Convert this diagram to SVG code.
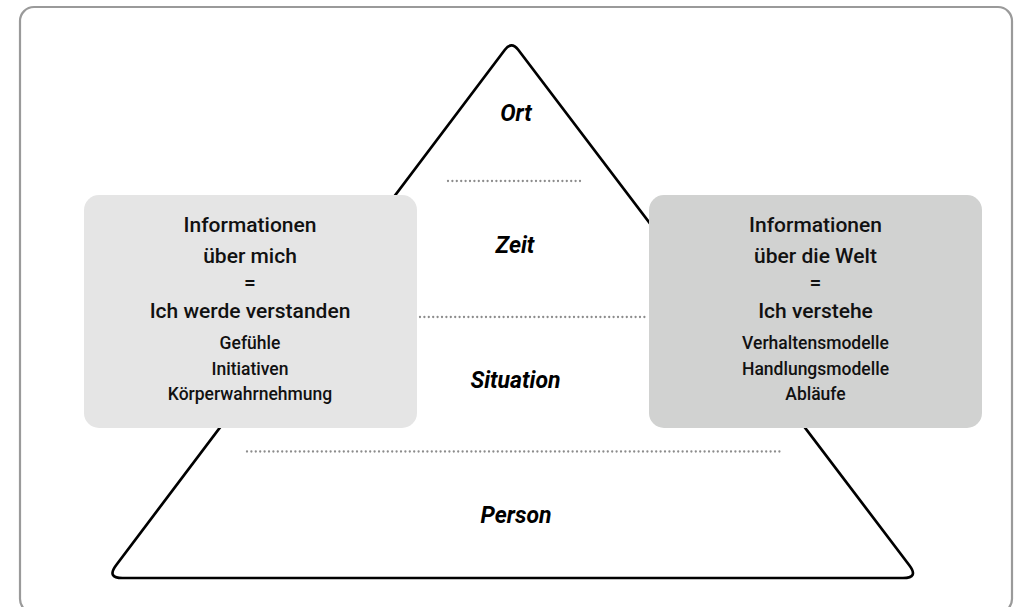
<svg xmlns="http://www.w3.org/2000/svg" width="1018" height="607" viewBox="0 0 1018 607">
<style>
.frame{fill:#fff;stroke:#9a9a9a;stroke-width:2.2}
.tri{fill:#fff;stroke:#000;stroke-width:2.7;stroke-linejoin:round}
.dot{stroke:#8c8c8c;stroke-width:2.3;stroke-linecap:round;stroke-dasharray:0 4.4;fill:none}
.t{font-family:Roboto,"Noto Sans",sans-serif;font-weight:500;fill:#111;text-anchor:middle}
.big{font-size:21px}
.small{font-size:17.5px}
.lbl{font-family:Roboto,"Noto Sans",sans-serif;font-weight:bold;font-style:italic;font-size:23px;fill:#000;text-anchor:middle}
</style>
<rect class="frame" x="20" y="7" width="992" height="606" rx="14"/>
<g id="pyramid">
<path class="tri" d="M504.9,49.8 Q511.5,41 518.2,49.8 L909.3,565.2 Q919,578 903,578 L122.5,578 Q106.5,578 116.1,565.2 Z"/>
<text class="lbl" x="516" y="121">Ort</text>
<text class="lbl" x="515" y="253">Zeit</text>
<text class="lbl" x="515.5" y="388">Situation</text>
<text class="lbl" x="516" y="523">Person</text>
</g>
<g id="connectors">
<line class="dot" x1="448" y1="181" x2="581" y2="181"/>
<line class="dot" x1="420" y1="317" x2="647" y2="317"/>
<line class="dot" x1="247" y1="451.5" x2="782" y2="451.5"/>
</g>
<g id="box-left">
<rect x="84" y="195" width="333" height="233" rx="15" fill="#e5e5e5"/>
<text class="t big" x="250" y="232">Informationen</text>
<text class="t big" x="250" y="263">über mich</text>
<text class="t big" x="250" y="290">=</text>
<text class="t big" x="250" y="318">Ich werde verstanden</text>
<text class="t small" x="250" y="349">Gefühle</text>
<text class="t small" x="250" y="375">Initiativen</text>
<text class="t small" x="250" y="400">Körperwahrnehmung</text>
</g>
<g id="box-right">
<rect x="649" y="195" width="333" height="233" rx="15" fill="#d1d2d1"/>
<text class="t big" x="815.5" y="232">Informationen</text>
<text class="t big" x="815.5" y="263">über die Welt</text>
<text class="t big" x="815.5" y="290">=</text>
<text class="t big" x="815.5" y="318">Ich verstehe</text>
<text class="t small" x="815.5" y="349">Verhaltensmodelle</text>
<text class="t small" x="815.5" y="375">Handlungsmodelle</text>
<text class="t small" x="815.5" y="400">Abläufe</text>
</g>
</svg>
